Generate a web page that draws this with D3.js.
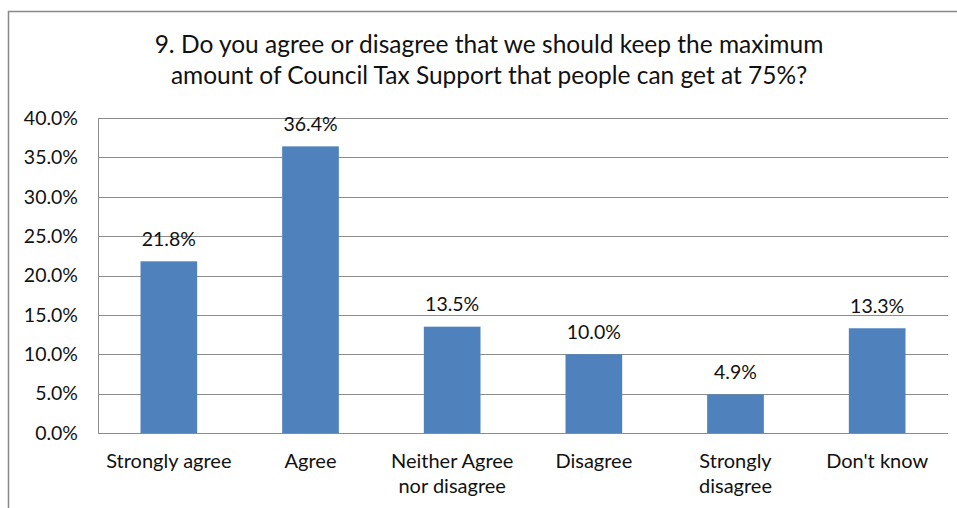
<!DOCTYPE html>
<html>
<head>
<meta charset="utf-8">
<script src="https://cdn.jsdelivr.net/npm/d3@7"></script>
<style>
  html, body { margin: 0; padding: 0; background: #fff; }
  svg { display: block; }
  text { font-family: Lato, "Open Sans", sans-serif; fill: #111; }
</style>
</head>
<body>
<svg id="chart" width="957" height="508"></svg>
<script>
// Survey responses, question 9
const categories = [
  ["Strongly agree"],
  ["Agree"],
  ["Neither Agree", "nor disagree"],
  ["Disagree"],
  ["Strongly", "disagree"],
  ["Don't know"]
];
const values = [21.8, 36.4, 13.5, 10.0, 4.9, 13.3];
const yTicks = [0, 5, 10, 15, 20, 25, 30, 35, 40];
const titleLines = [
  "9. Do you agree or disagree that we should keep the maximum",
  "amount of Council Tax Support that people can get at 75%?"
];

const svg = d3.select("#chart");
const W = 957, H = 508;
const plot = { left: 98, right: 948, top: 118, bottom: 433 };
const FONT = "Lato, 'Open Sans', sans-serif";

// Outer chart frame
svg.append("rect")
  .attr("x", 8.5).attr("y", 11.5)
  .attr("width", W + 10).attr("height", H + 10)
  .attr("fill", "#fff")
  .attr("stroke", "#898989").attr("stroke-width", 1.5);

// Title
svg.append("g").selectAll("text")
  .data(titleLines)
  .join("text")
  .attr("x", 489)
  .attr("y", (d, i) => 53 + i * 31)
  .attr("text-anchor", "middle")
  .attr("font-size", 24.5)
  .text(d => d);

const x = d3.scaleBand()
  .domain(d3.range(categories.length))
  .range([plot.left, plot.right])
  .paddingInner(0.6).paddingOuter(0.3);

const y = d3.scaleLinear()
  .domain([0, 40])
  .range([plot.bottom, plot.top]);

// Horizontal gridlines
svg.append("g").selectAll("line")
  .data(yTicks)
  .join("line")
  .attr("x1", plot.left).attr("x2", plot.right)
  .attr("y1", d => Math.round(y(d)) + 0.5)
  .attr("y2", d => Math.round(y(d)) + 0.5)
  .attr("stroke", "#8c8c8c").attr("stroke-width", 1);

// Y axis
const yAxis = d3.axisLeft(y)
  .tickValues(yTicks)
  .tickSize(0)
  .tickPadding(20)
  .tickFormat(d => d.toFixed(1) + "%");
const gy = svg.append("g")
  .attr("transform", `translate(${plot.left},0)`)
  .call(yAxis);
gy.select(".domain")
  .attr("stroke", "#8c8c8c")
  .attr("d", `M0.5,${plot.top}V${plot.bottom}`);
gy.selectAll("text")
  .attr("font-size", 19.5)
  .attr("font-family", FONT)
  .attr("fill", "#111");

// Bars
svg.append("g").selectAll("rect")
  .data(values)
  .join("rect")
  .attr("x", (d, i) => x(i))
  .attr("width", x.bandwidth())
  .attr("y", d => y(d))
  .attr("height", d => y(0) - y(d))
  .attr("fill", "#4f81bd");

// Value labels
svg.append("g").selectAll("text")
  .data(values)
  .join("text")
  .attr("x", (d, i) => x(i) + x.bandwidth() / 2)
  .attr("y", d => y(d) - 15.5)
  .attr("text-anchor", "middle")
  .attr("font-size", 19.5)
  .text(d => d.toFixed(1) + "%");

// Category labels
const cat = svg.append("g").selectAll("text")
  .data(categories)
  .join("text")
  .attr("x", (d, i) => x(i) + x.bandwidth() / 2)
  .attr("y", 468)
  .attr("text-anchor", "middle")
  .attr("font-size", 20);
cat.selectAll("tspan")
  .data(d => d)
  .join("tspan")
  .attr("x", function () { return d3.select(this.parentNode).attr("x"); })
  .attr("dy", (d, i) => i === 0 ? 0 : 25)
  .text(d => d);
</script>
</body>
</html>
